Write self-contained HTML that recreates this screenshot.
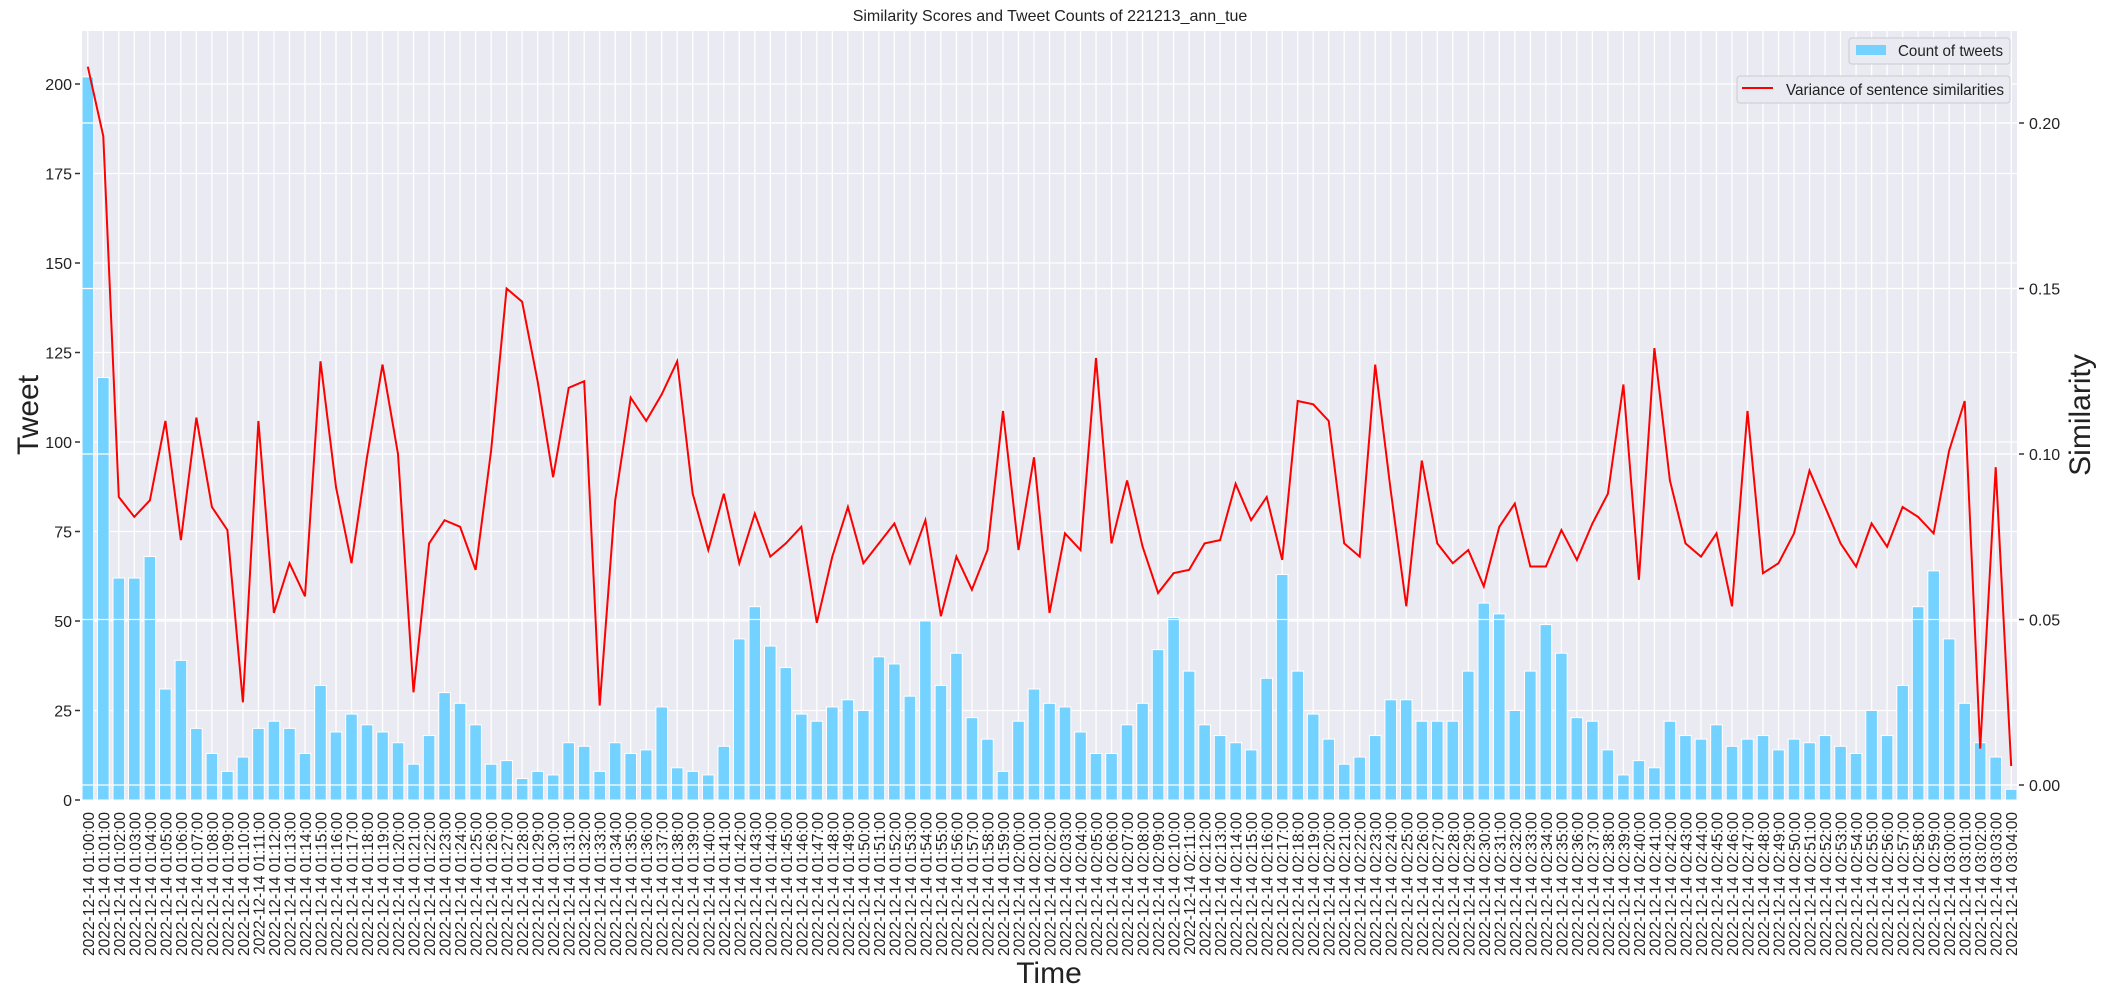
<!DOCTYPE html>
<html><head><meta charset="utf-8"><style>
body{margin:0;background:#fff;}
svg{display:block;font-family:"Liberation Sans",sans-serif;}
</style></head><body>
<svg id="chart" width="2102" height="997">
<rect x="82" y="31" width="1935" height="769" fill="#eaeaf2"/>
<g id="grid"></g><g id="bars"></g><g id="line"></g><g id="axes"></g>
<text x="1050" y="21" font-size="16" text-anchor="middle" fill="#222">Similarity Scores and Tweet Counts of 221213_ann_tue</text>
<text x="1049" y="983" font-size="30" text-anchor="middle" fill="#222">Time</text>
<text transform="translate(38,415) rotate(-90)" font-size="30" text-anchor="middle" fill="#222">Tweet</text>
<text transform="translate(2090,415) rotate(-90)" font-size="30" text-anchor="middle" fill="#222">Similarity</text>
<g>
<rect x="1849" y="38" width="161" height="26" rx="3" fill="#eaeaf2" stroke="#ccc"/>
<rect x="1856" y="45" width="30" height="10" fill="#73d2ff"/>
<text x="1898" y="56" font-size="16" fill="#222" textLength="105" lengthAdjust="spacingAndGlyphs">Count of tweets</text></g>
<g>
<rect x="1737" y="76" width="273" height="27" rx="3" fill="#eaeaf2" stroke="#ccc"/>
<line x1="1742" y1="88" x2="1773" y2="88" stroke="red" stroke-width="2"/>
<text x="1786" y="95" font-size="16" fill="#222" textLength="218" lengthAdjust="spacingAndGlyphs">Variance of sentence similarities</text></g>
</svg>
<script>
const counts=[202,118,62,62,68,31,39,20,13,8,12,20,22,20,13,32,19,24,21,19,16,10,18,30,27,21,10,11,6,8,7,16,15,8,16,13,14,26,9,8,7,15,45,54,43,37,24,22,26,28,25,40,38,29,50,32,41,23,17,8,22,31,27,26,19,13,13,21,27,42,51,36,21,18,16,14,34,63,36,24,17,10,12,18,28,28,22,22,22,36,55,52,25,36,49,41,23,22,14,7,11,9,22,18,17,21,15,17,18,14,17,16,18,15,13,25,18,32,54,64,45,27,16,12,3];
const variance=[0.217,0.196,0.087,0.081,0.086,0.110,0.074,0.111,0.084,0.077,0.025,0.110,0.052,0.067,0.057,0.128,0.090,0.067,0.099,0.127,0.100,0.028,0.073,0.080,0.078,0.065,0.101,0.150,0.146,0.122,0.093,0.120,0.122,0.024,0.086,0.117,0.110,0.118,0.128,0.088,0.071,0.088,0.067,0.082,0.069,0.073,0.078,0.049,0.069,0.084,0.067,0.073,0.079,0.067,0.080,0.051,0.069,0.059,0.071,0.113,0.071,0.099,0.052,0.076,0.071,0.129,0.073,0.092,0.072,0.058,0.064,0.065,0.073,0.074,0.091,0.080,0.087,0.068,0.116,0.115,0.110,0.073,0.069,0.127,0.089,0.054,0.098,0.073,0.067,0.071,0.060,0.078,0.085,0.066,0.066,0.077,0.068,0.079,0.088,0.121,0.062,0.132,0.092,0.073,0.069,0.076,0.054,0.113,0.064,0.067,0.076,0.095,0.084,0.073,0.066,0.079,0.072,0.084,0.081,0.076,0.101,0.116,0.011,0.096,0.0057];
const leftTicks=[0,25,50,75,100,125,150,175,200];
const rightTicks=[0,0.05,0.10,0.15,0.20];
const rightLabels=["0.00","0.05","0.10","0.15","0.20"];
const labels=counts.map((_,i)=>{const m=60+i,h=Math.floor(m/60),mm=m%60;return "2022-12-14 0"+h+":"+String(mm).padStart(2,"0")+":00";});
const NS="http://www.w3.org/2000/svg";
const X0=82,X1=2017,PT=31,PB=800,n=counts.length;
const step=(X1-X0)/(n-1+0.75);
const xc=i=>X0+(i+0.375)*step;
const yL=v=>800-v*3.58;
const yR=v=>785-v*3310;
function mk(t,a,p){const e=document.createElementNS(NS,t);for(const k in a)e.setAttribute(k,a[k]);p.appendChild(e);return e;}
const grid=document.getElementById('grid'),bars=document.getElementById('bars'),line=document.getElementById('line'),axes=document.getElementById('axes');
for(let i=0;i<n;i++){const g=mk('line',{x1:xc(i),x2:xc(i),y1:PT,y2:PB,stroke:'#fff','stroke-width':1.3},grid);

}
leftTicks.forEach(v=>{const g=mk('line',{x1:X0,x2:X1,y1:yL(v),y2:yL(v),stroke:'#fff','stroke-width':1.3},grid);


const tk=mk('line',{x1:X0-7,x2:X0-2,y1:yL(v),y2:yL(v),stroke:'#333','stroke-width':1.5},axes);


const t=mk('text',{x:X0-10,y:yL(v)+6,'font-size':16,'text-anchor':'end',fill:'#222'},axes);t.textContent=v;

});
rightTicks.forEach((v,k)=>{const g=mk('line',{x1:X0,x2:X1,y1:yR(v),y2:yR(v),stroke:'#fff','stroke-width':1.3},bars);


const tk=mk('line',{x1:X1+2,x2:X1+7,y1:yR(v),y2:yR(v),stroke:'#333','stroke-width':1.5},axes);


const t=mk('text',{x:X1+12,y:yR(v)+6,'font-size':16,fill:'#222'},axes);t.textContent=rightLabels[k];

});
const bw=step*0.75;
counts.forEach((v,i)=>{const r=mk('rect',{x:xc(i)-bw/2,y:yL(v),width:bw,height:800-yL(v),fill:'#73d2ff',stroke:'#fff','stroke-width':1},bars);

});
rightTicks.forEach(v=>{mk('line',{x1:X0,x2:X1,y1:yR(v),y2:yR(v),stroke:'#fff','stroke-width':1.3},bars);});
const p=mk('path',{d:variance.map((v,i)=>(i?'L':'M')+xc(i).toFixed(1)+','+yR(v).toFixed(1)).join(''),fill:'none',stroke:'red','stroke-width':2},line);


labels.forEach((s,i)=>{const t=mk('text',{transform:`translate(${xc(i)+6},812) rotate(-90)`,'font-size':15.5,'text-anchor':'end',fill:'#222'},axes);t.textContent=s;

});
</script>
</body></html>
